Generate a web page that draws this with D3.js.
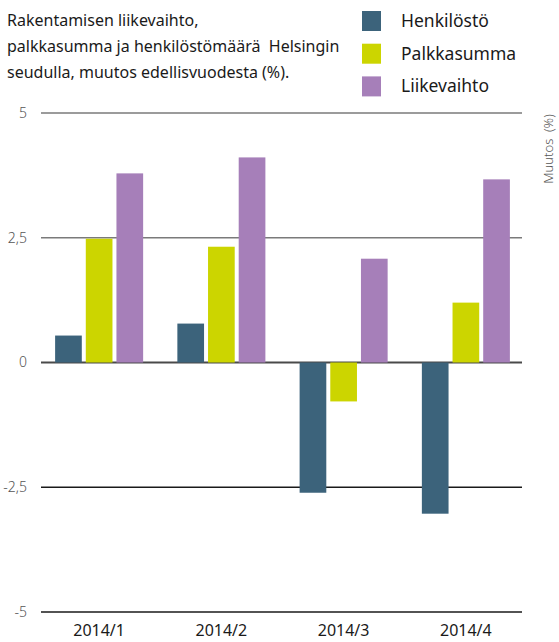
<!DOCTYPE html>
<html>
<head>
<meta charset="utf-8">
<script src="https://cdn.jsdelivr.net/npm/d3@7"></script>
<style>
  body { margin: 0; background: #fff; }
  text { font-family: "Noto Sans", "Open Sans", sans-serif; }
</style>
</head>
<body>
<div id="vis"></div>
<script>
// data
const quarters = ['2014/1', '2014/2', '2014/3', '2014/4']
const seriesNames = ['Henkilöstö', 'Palkkasumma', 'Liikevaihto']
const henkilosto = [0.54, 0.78, -2.61, -3.03]
const palkkasumma = [2.48, 2.32, -0.78, 1.2]
const liikevaihto = [3.79, 4.11, 2.08, 3.67]
const yTicks = [5, 2.5, 0, -2.5, -5]
const titleLines = ['Rakentamisen liikevaihto,', 'palkkasumma ja henkilöstömäärä  Helsingin', 'seudulla, muutos edellisvuodesta (%).']

const colors = ['#3c637b', '#ccd500', '#a67fb9']

const width = 559, height = 642
const plot = {left: 41, right: 522, top: 113, bottom: 612}

let svg = d3.select('#vis').append('svg')
    .attr('width', width)
    .attr('height', height)

let rows = quarters.map((q, i) => ({
    quarter: q,
    values: [henkilosto[i], palkkasumma[i], liikevaihto[i]]
}))

let x0 = d3.scaleBand()
    .domain(quarters)
    .range([38, 527])
    .paddingInner(0.28)
    .paddingOuter(0.14)

let x1 = d3.scaleBand()
    .domain(seriesNames)
    .range([0, x0.bandwidth()])
    .paddingInner(0.13)

let y = d3.scaleLinear()
    .domain([-5, 5])
    .range([plot.bottom, plot.top])

// gridlines
svg.append('g').selectAll('line')
    .data(yTicks)
    .join('line')
    .attr('x1', plot.left)
    .attr('x2', plot.right)
    .attr('y1', d => y(d))
    .attr('y2', d => y(d))
    .attr('stroke', d => d > 0 ? '#7a7a7a' : (d < 0 ? '#1a1a1a' : '#4a4a4a'))
    .attr('stroke-width', d => d == 0 ? 2 : 1.3)

// y labels (comma decimals, plain hyphen)
svg.append('g').selectAll('text')
    .data(yTicks)
    .join('text')
    .attr('x', 27)
    .attr('y', d => y(d))
    .attr('dy', '0.35em')
    .attr('text-anchor', 'end')
    .attr('fill', '#555')
    .style('font-size', '14px')
    .style('font-weight', 300)
    .text(d => String(d).replace('.', ','))

// bars
let groups = svg.append('g').selectAll('g')
    .data(rows)
    .join('g')
    .attr('transform', d => `translate(${x0(d.quarter)},0)`)

groups.selectAll('rect')
    .data(d => d.values.map((v, i) => ({name: seriesNames[i], value: v, i: i})))
    .join('rect')
    .attr('x', d => x1(d.name))
    .attr('width', x1.bandwidth())
    .attr('y', d => y(Math.max(0, d.value)))
    .attr('height', d => Math.abs(y(d.value) - y(0)))
    .attr('fill', d => colors[d.i])

// x labels
svg.append('g').selectAll('text')
    .data(quarters)
    .join('text')
    .attr('x', d => x0(d) + x0.bandwidth() / 2)
    .attr('y', 636)
    .attr('text-anchor', 'middle')
    .attr('fill', '#1a1a1a')
    .style('font-size', '16px')
    .text(d => d)

// title
svg.append('g').selectAll('text')
    .data(titleLines)
    .join('text')
    .attr('x', 7)
    .attr('y', (d, i) => 26 + i * 26)
    .attr('fill', '#1a1a1a')
    .style('font-size', '16px')
    .style('white-space', 'pre')
    .text(d => d)

// legend
let legend = svg.append('g').selectAll('g')
    .data(seriesNames)
    .join('g')
    .attr('transform', (d, i) => `translate(362,${11 + i * 32.7})`)

legend.append('rect')
    .attr('width', 19)
    .attr('height', 20)
    .attr('fill', (d, i) => colors[i])

legend.append('text')
    .attr('x', 39)
    .attr('y', 16)
    .attr('fill', '#1a1a1a')
    .style('font-size', '17.5px')
    .text(d => d)

// axis title
svg.append('text')
    .attr('transform', 'translate(553,149) rotate(-90)')
    .attr('text-anchor', 'middle')
    .attr('fill', '#555')
    .style('font-size', '13px')
    .style('font-weight', 300)
    .style('white-space', 'pre')
    .text('Muutos  (%)')
</script>
</body>
</html>
